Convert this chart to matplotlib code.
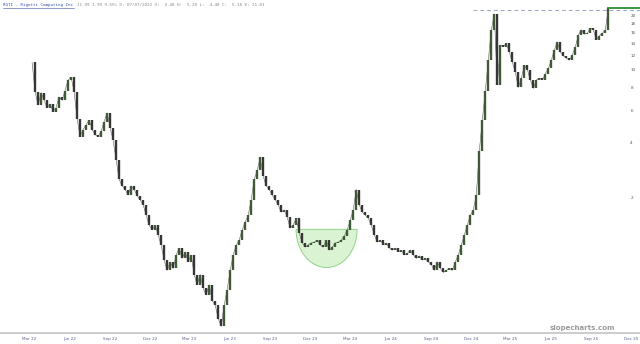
import numpy as np
import pandas as pd
import matplotlib
matplotlib.use("Agg")
import matplotlib.pyplot as plt
import matplotlib.dates as mdates
from matplotlib.lines import Line2D
from matplotlib.ticker import FixedLocator, FixedFormatter, NullLocator

# weekly closes (log price axis)
close = [
    11.0, 7.6, 6.4, 7.5, 6.8, 6.2, 6.5, 5.9, 6.2, 7.1, 6.8, 7.7, 8.8, 9.1, 7.6, 5.4,
    4.3, 4.7, 5.0, 5.3, 4.7, 4.4, 4.3, 4.6, 5.2, 5.8, 4.8, 4.1, 3.2, 2.5, 2.3, 2.2,
    2.05, 2.3, 2.2, 2.03, 1.93, 1.81, 1.59, 1.40, 1.32, 1.40, 1.24, 1.09, 0.90, 0.79,
    0.88, 0.81, 0.96, 1.05, 0.92, 1.00, 0.88, 0.96, 0.75, 0.66, 0.75, 0.63, 0.58, 0.66,
    0.54, 0.51, 0.43, 0.39, 0.51, 0.62, 0.79, 0.96, 1.09, 1.16, 1.32, 1.46, 1.59, 1.93,
    2.5, 2.8, 3.3, 2.6, 2.3, 2.2, 2.05, 1.93, 1.81, 1.65, 1.70, 1.55, 1.35, 1.40,
    1.53, 1.27, 1.12, 1.06, 1.09, 1.12, 1.13, 1.16, 1.09, 1.06, 1.16, 1.02, 1.06, 1.12,
    1.13, 1.16, 1.22, 1.32, 1.49, 1.70, 2.2, 1.81, 1.65, 1.59, 1.53, 1.40, 1.24, 1.13,
    1.16, 1.09, 1.12, 1.05, 1.02, 1.05, 1.00, 1.02, 0.96, 0.98, 1.02, 0.96, 0.92, 0.95,
    0.90, 0.92, 0.88, 0.85, 0.79, 0.88, 0.81, 0.77, 0.79, 0.81, 0.79, 0.88, 0.96, 1.09,
    1.24, 1.40, 1.59, 1.70, 2.05, 3.6, 5.3, 7.7, 11.3, 16.6, 20.3, 8.3, 13.7, 13.4,
    14.0, 12.5, 11.0, 9.7, 8.0, 9.0, 10.6, 10.0, 8.8, 7.9, 8.8, 9.0, 8.8, 9.5,
    10.2, 11.3, 12.9, 14.2, 12.5, 11.9, 11.6, 11.3, 12.1, 13.4, 15.5, 16.6, 15.7, 15.9,
    17.0, 16.6, 14.6, 15.4, 15.9, 16.6, 21.9,
]
first_date = "2022-03-08"
last_date = "2025-10-10"

y_ticks = [2, 4, 6, 8, 10, 12, 14, 16, 18, 20]
prior_high = 21.2
last_price = 22.0

# rounded base ("cup") annotation
cup_start = "2023-10-30"
cup_end = "2024-03-17"
cup_rim = 1.33
cup_bottom = 0.82

title_sym = "RGTI - Rigetti Computing Inc"
title_info = "11.99 1.99 9.55% D: 07/07/2022 O:  4.48 H:  5.28 L:  4.48 C:  5.18 V: 21.01"

dates = pd.date_range(first_date, last_date, periods=len(close))
close = np.array(close)
opens = np.concatenate([[close[0]], close[:-1]])
lo = np.minimum(opens, close)
hi = np.maximum(opens, close)
up = close >= opens

fig = plt.figure(figsize=(6.4, 3.44), dpi=100)
ax = fig.add_axes([0, 11 / 344, 1, 333 / 344])
ax.set_yscale("log")
ax.set_ylim(0.358, 24.2)
ax.set_xlim(pd.Timestamp("2021-12-25"), pd.Timestamp("2025-12-21"))

# cup shape
c0, c1 = mdates.date2num(pd.Timestamp(cup_start)), mdates.date2num(pd.Timestamp(cup_end))
t = np.linspace(np.pi, 2 * np.pi, 80)
cx, rx = (c0 + c1) / 2, (c1 - c0) / 2
ly0, ly1 = np.log(cup_rim), np.log(cup_bottom)
cup_x = cx + rx * np.cos(t)
cup_y = np.exp(ly0 + (ly0 - ly1) * np.sin(t))
ax.fill(cup_x, cup_y, facecolor="#d4f2cc", edgecolor="#74c46a", lw=0.6, alpha=0.85, zorder=1)

# bars: open = previous close
ax.vlines(dates[up], lo[up], hi[up], color="#405a38", lw=1.7, zorder=3)
ax.vlines(dates[~up], lo[~up], hi[~up], color="#363636", lw=1.7, zorder=3)
ax.plot(dates, close, color="#4a4a4a", lw=0.35, zorder=2)

ax.axhline(prior_high, xmin=473 / 640, xmax=1, color="#9aa8c4", lw=0.7, ls=(0, (4, 3)), zorder=1)
ax.plot([dates[-1], pd.Timestamp("2025-12-21")], [last_price, last_price], color="#2f8f2f", lw=1.3, zorder=4)

for s in ["top", "left", "right"]:
    ax.spines[s].set_visible(False)
ax.spines["bottom"].set_color("#c4c4c4")
ax.spines["bottom"].set_linewidth(1.2)

ax.yaxis.tick_right()
ax.yaxis.set_major_locator(FixedLocator(y_ticks))
ax.yaxis.set_major_formatter(FixedFormatter([str(v) for v in y_ticks]))
ax.yaxis.set_minor_locator(NullLocator())
ax.tick_params(axis="y", length=0, pad=-7, labelsize=3, labelcolor="#555555")

ax.xaxis.set_major_locator(mdates.MonthLocator(bymonth=[3, 6, 9, 12]))
ax.xaxis.set_major_formatter(mdates.DateFormatter("%b %y"))
ax.tick_params(axis="x", length=0, pad=3, labelsize=3, labelcolor="#56608a")
ax.set_facecolor("white")

fig.text(0.005, 1 - 5 / 344, title_sym, family="DejaVu Sans Mono", fontsize=3.1,
         color="#3a4fb0", va="center")
fig.text(77 / 640, 1 - 5 / 344, title_info, family="DejaVu Sans Mono", fontsize=3.1,
         color="#888888", va="center")
fig.add_artist(Line2D([3 / 640, 74 / 640], [1 - 8 / 344, 1 - 8 / 344], color="#3a4fb0", lw=0.4))

fig.text(582 / 640, 16 / 344, "slopecharts.com", fontsize=5, color="#9a9a9a",
         fontweight="bold", ha="center", va="center")

fig.savefig("out.png", dpi=100)
